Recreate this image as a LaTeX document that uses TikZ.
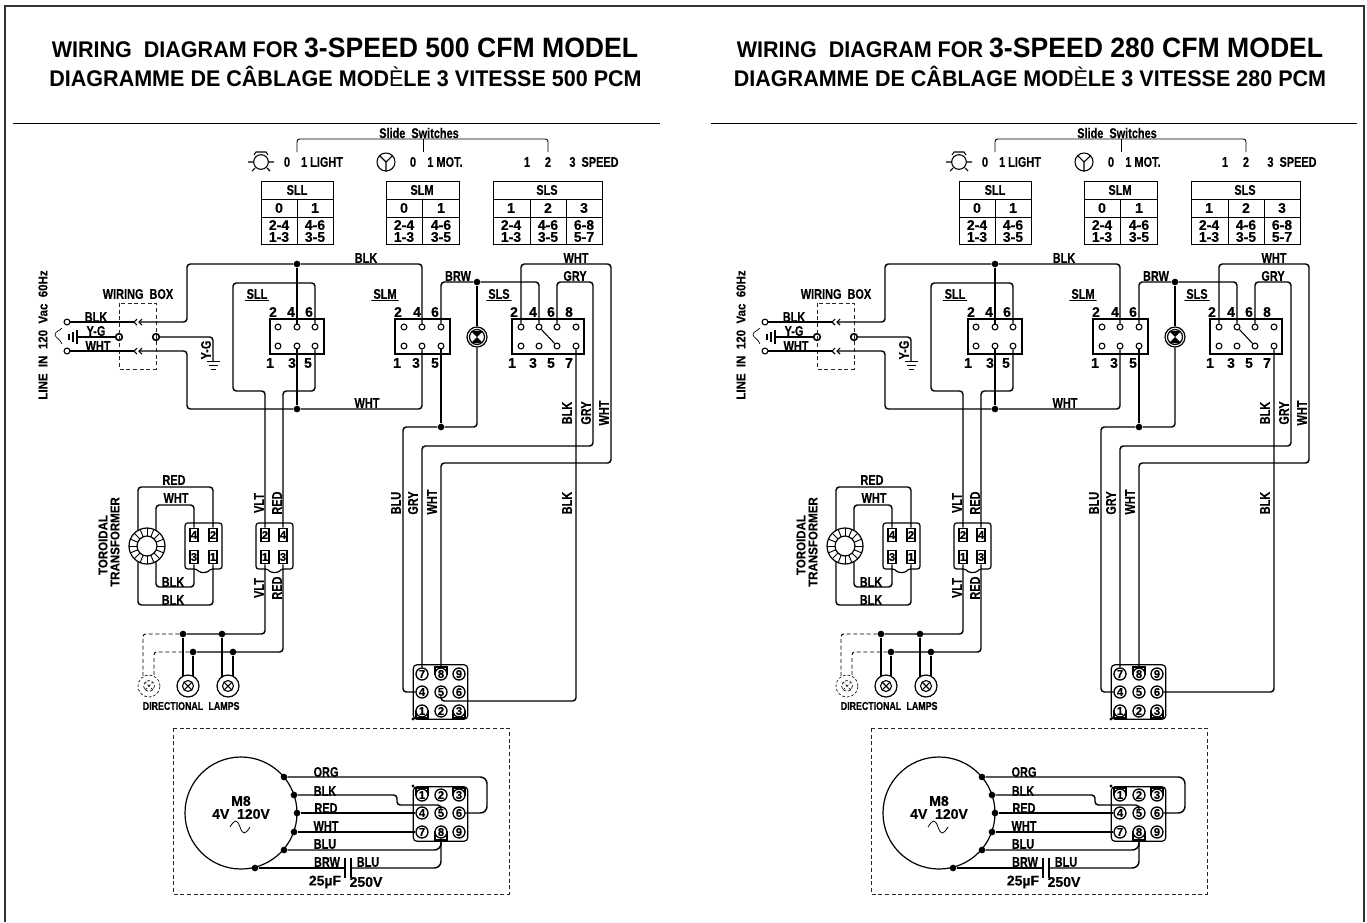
\documentclass[tikz,border=0pt]{standalone}
\usepackage{fontspec}
\setmainfont{Liberation Sans}
\newfontfamily\titlefont[FakeStretch=0.95]{Liberation Sans}
\newfontfamily\cadfont[FakeStretch=0.78, FakeBold=0.25]{Liberation Sans}
\newfontfamily\cadwide[FakeStretch=0.9, FakeBold=0.25]{Liberation Sans}
\newfontfamily\cadnum[FakeBold=0.25]{Liberation Sans}
\usetikzlibrary{calc}
\tikzset{
  wire/.style={line width=1.1pt, rounded corners=2.5pt},
  dashwire/.style={line width=.7pt, dash pattern=on 3pt off 2pt, rounded corners=2pt},
  swbox/.style={line width=.9pt},
  tablebox/.style={line width=.7pt},
  pin/.style={circle, draw, fill=white, line width=.8pt, inner sep=0pt, minimum size=4.4pt},
  bigpin/.style={circle, draw, fill=white, line width=1.2pt, inner sep=0pt, minimum size=5pt},
  dot/.style={circle, fill=black, inner sep=0pt, minimum size=5pt},
  cpin/.style={circle, draw, fill=white, line width=1pt, inner sep=0pt, minimum size=9pt, font=\cadnum\bfseries\fontsize{8.5}{8.5}\selectfont},
  blade/.style={rectangle, draw, fill=white, line width=.9pt, inner sep=0pt, minimum width=6pt, minimum height=10pt, font=\cadnum\bfseries\fontsize{8.5}{8.5}\selectfont},
  lbl/.style={inner sep=0pt, font=\cadfont\bfseries\fontsize{10.5}{10.5}\selectfont},
  numlbl/.style={inner sep=0pt, font=\cadnum\bfseries\fontsize{10.5}{10.5}\selectfont},
  rotlbl/.style={lbl, rotate=90},
  rotwide/.style={inner sep=0pt, rotate=90, font=\cadwide\bfseries\fontsize{9.6}{9.6}\selectfont},
  lblsmall/.style={inner sep=0pt, font=\cadfont\bfseries\fontsize{8.5}{8.5}\selectfont},
  titleline/.style={inner sep=0pt, anchor=base, font=\titlefont\bfseries\fontsize{17}{17}\selectfont},
}
% plug housing with the small hump below
\newcommand{\plugbody}[1]{
  \draw[swbox, rounded corners=2pt] (#1,523) -- (#1+37,523) -- (#1+37,569) -- (#1+25,569)
    .. controls (#1+22,573) and (#1+15,573) .. (#1+12,569) -- (#1,569) -- cycle;
}
% round lamp with a cross in it
\newcommand{\xlamp}[4]{
  \node[circle, draw, fill=white, line width=.9pt, inner sep=0pt, minimum size=16.5pt, #4] (#1) at (#2,#3) {};
  \draw[line width=.8pt, #4] (#1) circle (5.5);
  \draw[line width=.8pt, #4] ($(#1)+(45:5.5)$) -- ($(#1)+(225:5.5)$) ($(#1)+(135:5.5)$) -- ($(#1)+(315:5.5)$);
}
\newcommand{\wirepanel}[3]{
  \begin{scope}[xshift=#2*.75pt, name prefix=#1-]
    \draw[line width=.7pt, rounded corners=2pt] (297,152) |- (548,139) -- (548,152);
    \draw[line width=.7pt] (423,139) -- (423,152);

    % lamp and motor marks
    \node[circle, draw, line width=.8pt, inner sep=0pt, minimum size=11pt] (lighticon) at (261,162) {};
    \draw[line width=.8pt] (248,162) -- (253,162) (269,162) -- (274,162) (252,171) -- (255,168) (270,171) -- (267,168)
      (254,155) -- (256,152) -- (266,152) -- (268,155);
    \node[circle, draw, line width=.8pt, inner sep=0pt, minimum size=13.5pt] (moticon) at (386,162) {};
    \draw[line width=.8pt] (moticon.center) -- (moticon.south) (moticon.center) -- (moticon.north west) (moticon.center) -- (moticon.north east);

    % tables
    \draw[tablebox] (261,181) rectangle (333,244) (261,199) -- (333,199) (261,217) -- (333,217) (297,199) -- (297,244);
    \draw[tablebox] (386,181) rectangle (459,244) (386,199) -- (459,199) (386,217) -- (459,217) (422,199) -- (422,244);
    \draw[tablebox] (493,181) rectangle (602,244) (493,199) -- (602,199) (493,217) -- (602,217) (530,199) -- (530,244) (566,199) -- (566,244);

    % switch blocks
    \draw[swbox] (270,319) rectangle (324,354);
    \draw[swbox] (395,319) rectangle (450,354);
    \draw[swbox] (512,319) rectangle (584,354);
    \foreach \n/\x/\y in {2/278/327, 4/297/327, 6/315/327, 1/278/346, 3/297/346, 5/315/346}
      \node[pin] (sll\n) at (\x,\y) {};
    \foreach \n/\x/\y in {2/404/327, 4/422/327, 6/441/327, 1/404/346, 3/422/346, 5/441/346}
      \node[pin] (slm\n) at (\x,\y) {};
    \foreach \n/\x/\y in {2/521/327, 4/539/327, 6/557/327, 8/576/327, 1/521/346, 3/539/346, 5/557/346, 7/576/346}
      \node[pin] (sls\n) at (\x,\y) {};
    \draw[line width=.8pt] (sls4) -- (sls5); % slider

    % line in
    \node[pin] (termblk) at (67,322) {};
    \node[pin] (termwht) at (67,351) {};
    \node[bigpin] (termygl) at (119,337) {};
    \node[bigpin] (termygr) at (156,337) {};
    \coordinate (plugblka) at (134,322);
    \coordinate (plugblkb) at (139,322);
    \coordinate (plugwhta) at (134,351);
    \coordinate (plugwhtb) at (139,351);
    \coordinate (earthin) at (77,337);
    \coordinate (gnd) at (213,361);
    \draw[line width=.7pt, black!85, dash pattern=on 3pt off 2pt] (119,303) rectangle (156,369);
    \draw[wire] (termblk) -- (plugblka);
    \draw[wire] (termwht) -- (plugwhta);
    \draw[wire] (earthin) -- (termygl);
    \draw[wire] (termygr) -| (gnd);
    \draw[line width=.8pt] (137,319) -- (134,322) -- (137,325) (142,319) -- (139,322) -- (142,325);
    \draw[line width=.8pt] (137,348) -- (134,351) -- (137,354) (142,348) -- (139,351) -- (142,354);
    \draw[line width=.8pt] (77,330) -- (77,344) (73,332) -- (73,342) (69,334) -- (69,340);
    \draw[line width=.7pt] (207,361) -- (220,361) (209,365) -- (218,365) (211,369) -- (216,369);
    \draw[line width=.5pt] (62,328) .. controls (60,331) and (55,331) .. (55,335) .. controls (56,338) and (60,339) .. (62,344);
    \node[dot] (jtop) at (297,264) {};
    \node[dot] (jbot) at (297,409) {};
    \draw[wire] (plugblkb) -- (187,322) |- (jtop);
    \draw[wire] (jtop) -- (422,264) -- (slm4);
    \draw[wire] (jtop) -- (sll4);
    \draw[wire] (plugwhtb) -- (187,351) |- (jbot);
    \draw[wire] (jbot) -- (422,409) -- (slm3);
    \draw[wire] (jbot) -- (sll3);

    % transformer and plugs
    \plugbody{185}
    \plugbody{256}
    \foreach \n/\x/\y in {4/194/535, 2/213/535, 3/194/557, 1/213/557}
      \node[blade] (trf\n) at (\x,\y) {\n};
    \foreach \n/\x/\y in {2/265/535, 4/283/535, 1/265/557, 3/283/557}
      \node[blade] (vlt\n) at (\x,\y) {\n};
    \draw[wire] (trf2) |- (138,487) -- (138,605) -| (trf1);
    \draw[wire] (trf4) |- (156,505) -- (156,587) -| (trf3);
    \draw[wire] (sll6) -- (315,283) -- (233,283) -- (233,391) -- (265,391) -- (vlt2);
    \draw[wire] (sll5) |- (283,391) -- (vlt4);
    \node[circle, draw, fill=white, line width=.9pt, inner sep=0pt, minimum size=27pt] (toroid) at (147,546) {};
    \foreach \a in {0,22.5,...,337.5}
      \draw[line width=.7pt] ($(toroid)+(\a:10)$) -- ($(toroid)+(\a:18)$);
    \draw[line width=.9pt, fill=white] (toroid) circle (10);

    % directional lamps
    \node[dot] (jda) at (183,634) {};
    \node[dot] (jdb) at (222,634) {};
    \node[dot] (jdc) at (193,652) {};
    \node[dot] (jdd) at (233,652) {};
    \draw[wire] (vlt1) |- (jda);
    \draw[wire] (vlt3) |- (jdc);
    \draw[dashwire] (jda) -| (143,676);
    \draw[dashwire] (jdc) -| (154,676);
    \draw[wire] (jda) -- (183,686);
    \draw[wire] (jdc) -- (193,686);
    \draw[wire] (jdb) -- (222,686);
    \draw[wire] (jdd) -- (233,686);
    \xlamp{lampa}{188}{686}{}
    \xlamp{lampb}{228}{686}{}
    \xlamp{lampd}{149}{686}{draw=black!85, dash pattern=on 2pt off 1.5pt, line width=.55pt}

    % pilot lamp
    \node[dot] (jbrw) at (477,282) {};
    \node[dot] (jblu) at (441,427) {};
    \node[circle, draw, fill=white, line width=.9pt, inner sep=0pt, minimum size=15pt] (pilot) at (477,337) {};
    \draw[line width=.9pt] (pilot) circle (7.5);
    \fill (pilot.center) -- (471,331) -- (483,331) -- cycle;
    \fill (pilot.center) -- (471,343) -- (483,343) -- cycle;
    \draw[wire] (slm6) |- (jbrw);
    \draw[wire] (jbrw) -- (539,282) -- (sls4);
    \draw[wire] (jbrw) -- (pilot);
    \draw[wire] (pilot) |- (jblu);
    \draw[wire] (slm5) -- (jblu);

    % appliance connector
    \node[rectangle, draw, line width=.9pt, rounded corners=3pt, inner sep=0pt, minimum size=41pt] (cabody) at (440.5,692) {};
    \draw[line width=.9pt] (416,711) rectangle (428,718) (453,711) rectangle (465,718) (435,667) rectangle (447,674);
    \foreach \n/\x/\y in {7/422/674, 8/441/674, 9/459/674, 4/422/692, 5/441/692, 6/459/692, 1/422/711, 2/441/711, 3/459/711}
      \node[cpin] (ca\n) at (\x,\y) {\n};
    \fill (413,719) circle (1.6);
    \coordinate (cabot) at (441,701);
    \draw[wire] (jblu) -| (403,692) -- (ca4);
    \draw[wire] (sls6) -- (557,282) -- (593,282) -- (593,446) -| (ca7);
    \draw[wire] (sls2) -- (521,264) -- (611,264) -- (611,463) -| (ca8);
    #3

    % motor
    \draw[line width=.7pt, black!85, dash pattern=on 3pt off 2pt] (173,728) rectangle (509,894);
    \node[circle, draw, line width=.9pt, inner sep=0pt, minimum size=84pt] (motor) at (241,813) {};
    \node[rectangle, draw, line width=.9pt, rounded corners=3pt, inner sep=0pt, minimum size=41pt] (mcbody) at (440.5,814) {};
    \draw[line width=.9pt] (416,788) rectangle (428,795) (453,788) rectangle (465,795) (435,832) rectangle (447,840);
    \foreach \n/\x/\y in {1/422/795, 2/441/795, 3/459/795, 4/422/813, 5/441/813, 6/459/813, 7/422/832, 8/441/832, 9/459/832}
      \node[cpin] (mc\n) at (\x,\y) {\n};
    \fill (413,786) circle (1.6);
    \foreach \n/\x/\y in {org/284/777, blk/294/795, red/297/813, wht/294/832, blu/284/850, brw/255/868}
      \node[dot] (mt\n) at (\x,\y) {};
    \coordinate (capl) at (345,868);
    \coordinate (capr) at (351,868);
    \draw[wire, rounded corners=5pt] (mtorg) -| (487,813) -- (mc6);
    \draw[wire] (mtblk) -| (397,805) -| (mc5);
    \draw[wire] (mtred) -- (mc4);
    \draw[wire] (mtwht) -- (mc7);
    \draw[wire, rounded corners=5pt] (mtblu) -| (mc8);
    \draw[wire, rounded corners=5pt] (mc8) |- (capr);
    \draw[wire] (mtbrw) -- (capl);
    \draw[line width=1.3pt] (345,858) -- (345,878) (351,858) -- (351,878);
    \draw[line width=.6pt] (230,827) .. controls (235,819) and (237,819) .. (240,827) .. controls (243,835) and (245,835) .. (250,827);

    % labels
    \foreach \txt/\x/\y [count=\k] in {0/287/162, 1 LIGHT/322/162, 0/413/162, 1 MOT./445/162, 1/527/162, 2/548/162, 3\ \ SPEED/594/162,
        SLL/297/190, SLM/422/190, SLS/547/190,
        BLK/366/258, WHT/367/403, BRW/458/276, WHT/576/258, GRY/575/276,
        BLK/96/317, Y-G/96/331, WHT/98/346, WIRING\ \ BOX/138/294,
        RED/174/480, WHT/176/498, BLK/173/582, BLK/173/600,
        ORG/326/772, BLK/325/791, RED/326/808, WHT/326/826, BLU/325/844, BRW/327/862, BLU/368/862}
      \node[lbl] (txt\k) at (\x,\y) {\txt};
    \foreach \txt/\x/\y [count=\k] in {0/279/208, 1/315/208, 2-4/279/225, 1-3/279/237, 4-6/315/225, 3-5/315/237,
        0/404/208, 1/441/208, 2-4/404/225, 1-3/404/237, 4-6/441/225, 3-5/441/237,
        1/511/208, 2/548/208, 3/584/208, 2-4/511/225, 1-3/511/237, 4-6/548/225, 3-5/548/237, 6-8/584/225, 5-7/584/237,
        2/273/312, 4/291/312, 6/309/312, 1/270/363, 3/292/363, 5/308/363,
        2/398/312, 4/417/312, 6/435/312, 1/397/363, 3/416/363, 5/435/363,
        2/514/312, 4/533/312, 6/551/312, 8/569/312, 1/512/363, 3/533/363, 5/551/363, 7/569/363,
        25µF/325/882, 250V/366/882, M8/241/801, 4V\ \ 120V/241/814}
      \node[numlbl] (num\k) at (\x,\y) {\txt};
    \foreach \txt/\x/\y [count=\k] in {Y-G/206/350, BLK/567/413, GRY/586/413, WHT/604/413,
        BLU/396/503, GRY/413/503, WHT/432/502, BLK/567/503, VLT/259/503, RED/277/503, VLT/259/588, RED/277/588}
      \node[rotlbl] (rot\k) at (\x,\y) {\txt};
    \foreach \txt/\x/\y [count=\k] in {LINE\ \ IN\ \ 120\ \ Vac\ \ 60Hz/43/335, TOROIDAL/103/545, TRANSFORMER/115/542}
      \node[rotwide] (wide\k) at (\x,\y) {\txt};
    \foreach \txt/\x [count=\k] in {SLL/257, SLM/385, SLS/499}
      \node[lbl, inner sep=1.5pt, path picture={\draw[line width=.9pt] (path picture bounding box.south west) -- (path picture bounding box.south east);}] (head\k) at (\x,294) {\txt};
    \node[inner sep=0pt, font=\cadfont\fontsize{10.5}{10.5}\selectfont\bfseries] (slidetxt) at (419,133) {Slide\ \ Switches};
    \node[lblsmall] (dirtxt) at (173,706) {DIRECTIONAL};
    \node[lblsmall] (lamptxt) at (224,706) {LAMPS};
  \end{scope}
}

\begin{document}
\begin{tikzpicture}[x=.75pt, y=-.75pt]
  \useasboundingbox (0,0) rectangle (1367,922);
  \coordinate (frameA) at (5,922);
  \coordinate (frameB) at (5,6);
  \coordinate (frameC) at (1364,6);
  \coordinate (frameD) at (1364,922);
  \draw[line width=1pt, black!80] (frameA) -- (frameB) -- (frameC) -- (frameD);

  \coordinate (ruleLa) at (13,123.5);
  \coordinate (ruleLb) at (660,123.5);
  \coordinate (ruleRa) at (711,123.5);
  \coordinate (ruleRb) at (1357,123.5);
  \draw[line width=.9pt] (ruleLa) -- (ruleLb);
  \draw[line width=.9pt] (ruleRa) -- (ruleRb);

  \node[titleline] (titleLa) at (345,57) {WIRING\ \ DIAGRAM FOR {\fontsize{21}{21}\selectfont 3-SPEED 500 CFM MODEL}};
  \node[titleline] (titleLb) at (345.5,86) {DIAGRAMME DE CÂBLAGE MOD{\mdseries È}LE 3 VITESSE 500 PCM};
  \node[titleline] (titleRa) at (1030,57) {WIRING\ \ DIAGRAM FOR {\fontsize{21}{21}\selectfont 3-SPEED 280 CFM MODEL}};
  \node[titleline] (titleRb) at (1030,86) {DIAGRAMME DE CÂBLAGE MOD{\mdseries È}LE 3 VITESSE 280 PCM};

  \wirepanel{A}{0}{\draw[wire] (sls7) |- (cabot) -- (ca5);}
  \wirepanel{B}{698}{\draw[wire] (sls7) |- (ca6);}
\end{tikzpicture}
\end{document}
